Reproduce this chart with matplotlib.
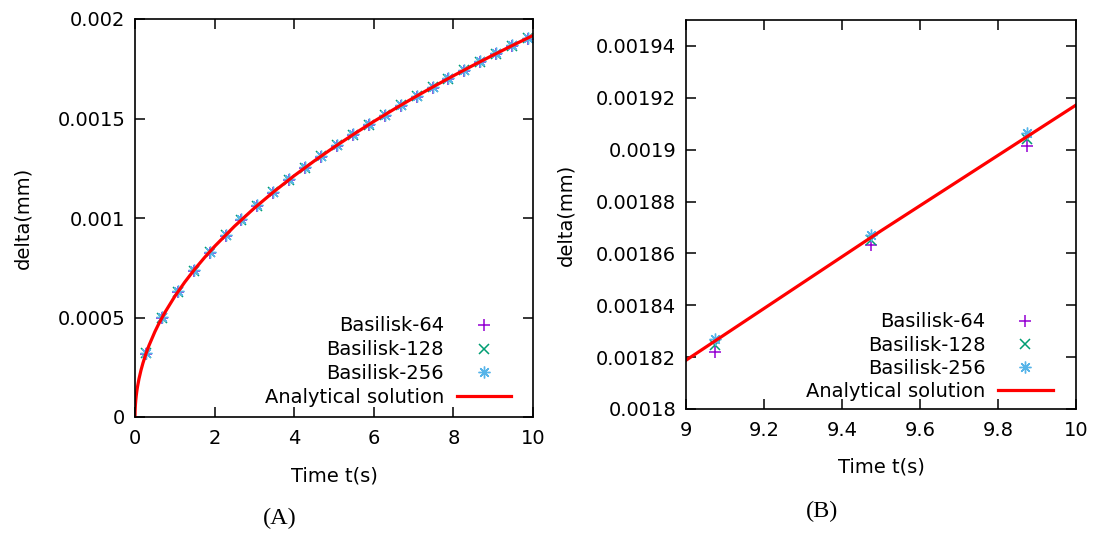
import matplotlib
matplotlib.use("Agg")
import matplotlib.pyplot as plt
from matplotlib.ticker import FormatStrFormatter, MultipleLocator

# ---- data ----
t_sim = [0.275, 0.675, 1.075, 1.475, 1.875, 2.275, 2.675, 3.075, 3.475, 3.875,
         4.275, 4.675, 5.075, 5.475, 5.875, 6.275, 6.675, 7.075, 7.475, 7.875,
         8.275, 8.675, 9.075, 9.475, 9.875]
basilisk_256 = [0.000322, 0.000501, 0.000632, 0.0007376, 0.0008315, 0.0009157, 0.0009929,
                0.0010644, 0.0011315, 0.0011947, 0.0012548, 0.0013122, 0.0013671,
                0.0014199, 0.0014708, 0.0015200, 0.0015677, 0.0016139, 0.0016589,
                0.0017026, 0.0017453, 0.0017870, 0.0018271, 0.0018670, 0.0019066]
basilisk_128 = [0.000320, 0.000499, 0.000630, 0.0007353, 0.0008292, 0.0009134, 0.0009906,
                0.0010621, 0.0011292, 0.0011924, 0.0012525, 0.0013099, 0.0013648,
                0.0014176, 0.0014685, 0.0015177, 0.0015654, 0.0016116, 0.0016566,
                0.0017003, 0.0017430, 0.0017847, 0.0018245, 0.0018651, 0.0019043]
basilisk_64 = [0.000317, 0.000496, 0.000627, 0.0007325, 0.0008264, 0.0009106, 0.0009878,
               0.0010593, 0.0011264, 0.0011896, 0.0012497, 0.0013071, 0.0013620,
               0.0014148, 0.0014657, 0.0015149, 0.0015626, 0.0016088, 0.0016538,
               0.0016975, 0.0017402, 0.0017819, 0.0018220, 0.0018632, 0.0019015]

t_ana = [0, 0.002, 0.005, 0.01, 0.02, 0.03, 0.045, 0.06, 0.1, 0.15, 0.2, 0.275, 0.35,
         0.5, 0.6, 0.75, 1, 1.25, 1.5, 1.75, 2, 2.5, 3, 3.5, 4, 4.5, 5, 5.5, 6, 6.5,
         7, 7.5, 8, 8.5, 9, 9.5, 10]
delta_ana = [0, 0.0000271, 0.0000429, 0.0000606, 0.0000857, 0.0001050, 0.0001286,
             0.0001485, 0.0001917, 0.0002348, 0.0002711, 0.0003179, 0.0003587,
             0.0004287, 0.0004696, 0.0005250, 0.0006063, 0.0006778, 0.0007425,
             0.0008020, 0.0008574, 0.0009586, 0.0010501, 0.0011342, 0.0012125,
             0.0012861, 0.0013557, 0.0014218, 0.0014851, 0.0015457, 0.0016040,
             0.0016604, 0.0017148, 0.0017676, 0.0018188, 0.0018687, 0.0019172]

labels = ["Basilisk-64", "Basilisk-128", "Basilisk-256", "Analytical solution"]
colors = ["#9400d3", "#009e73", "#56b4e9", "#ff0000"]

plt.rcParams['font.family'] = ['DejaVu Sans']
FS = 14

fig = plt.figure(figsize=(10.94, 5.34), dpi=100)
W, H = 1094.0, 534.0

def make_axes(x0, x1, ytop, ybot):
    return fig.add_axes([x0 / W, (H - ybot) / H, (x1 - x0) / W, (ybot - ytop) / H])

axA = make_axes(135, 533, 19, 417)
axB = make_axes(686, 1076, 20, 409)

asterisk = (8, 2, 0)

def draw(ax, ylabelpad, xlabelpad):
    ax.plot(t_sim, basilisk_64, linestyle='none', marker='+', ms=8, mew=1.1,
            color=colors[0], label=labels[0])
    ax.plot(t_sim, basilisk_128, linestyle='none', marker='x', ms=7, mew=1.1,
            color=colors[1], label=labels[1])
    ax.plot(t_sim, basilisk_256, linestyle='none', marker=asterisk, ms=8.5, mew=1.0,
            color=colors[2], label=labels[2])
    ax.plot(t_ana, delta_ana, '-', color=colors[3], lw=2.3, label=labels[3])
    ax.tick_params(direction='in', top=True, right=True, length=7, width=1.1,
                   labelsize=FS)
    ax.tick_params(axis='x', pad=9)
    ax.tick_params(axis='y', pad=7)
    for s in ax.spines.values():
        s.set_linewidth(1.2)
    ax.set_xlabel("Time t(s)", fontsize=FS, labelpad=xlabelpad)
    ax.set_ylabel("delta(mm)", fontsize=FS, labelpad=ylabelpad)

draw(axA, 18, 13)
axA.set_xlim(0, 10)
axA.set_ylim(0, 0.002)
axA.xaxis.set_major_locator(MultipleLocator(2))
axA.yaxis.set_major_locator(MultipleLocator(0.0005))
axA.xaxis.set_major_formatter(FormatStrFormatter('%g'))
axA.yaxis.set_major_formatter(FormatStrFormatter('%g'))
axA.legend(loc='lower right', bbox_to_anchor=(0.945, 0.025), frameon=False,
           markerfirst=False, fontsize=FS, handlelength=2.8, handletextpad=0.65,
           labelspacing=0.25, borderpad=0, borderaxespad=0)

draw(axB, 15, 12)
axB.set_xlim(9, 10)
axB.set_ylim(0.0018, 0.00195)
axB.xaxis.set_major_locator(MultipleLocator(0.2))
axB.yaxis.set_major_locator(MultipleLocator(0.00002))
axB.xaxis.set_major_formatter(FormatStrFormatter('%g'))
axB.yaxis.set_major_formatter(FormatStrFormatter('%g'))
axB.legend(loc='lower right', bbox_to_anchor=(0.94, 0.02), frameon=False,
           markerfirst=False, fontsize=FS, handlelength=2.8, handletextpad=0.65,
           labelspacing=0.22, borderpad=0, borderaxespad=0)

fig.text(280 / W, 1 - 518 / H, "(A)", family='Liberation Serif', fontsize=17.5,
         ha='center', va='center')
fig.text(822 / W, 1 - 511 / H, "(B)", family='Liberation Serif', fontsize=17.5,
         ha='center', va='center')

fig.savefig("out.png", dpi=100)
